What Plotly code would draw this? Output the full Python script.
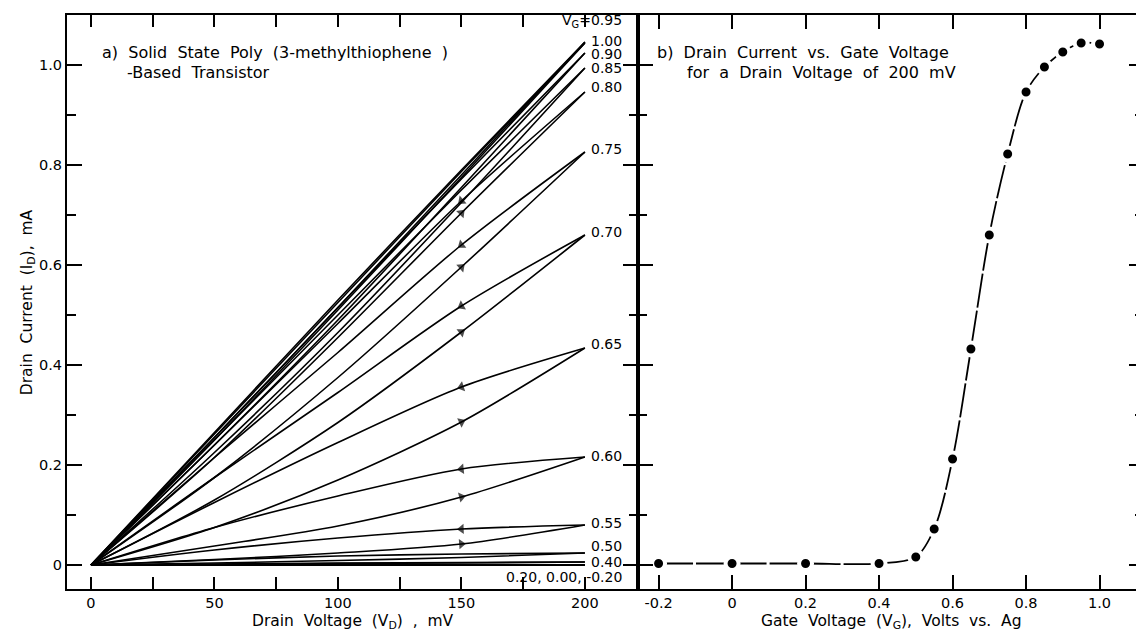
import plotly.graph_objects as go

# ---------------- data: panel a (I_D vs V_D loops) ----------------
VD = [0, 50, 100, 150, 200]             # drain voltage, mV (forward sweep order)
VD_REV = [200, 150, 100, 50, 0]         # reverse sweep order

FWD_100 = [0, 0.255, 0.515, 0.780, 1.046]
REV_100 = [1.046, 0.790, 0.530, 0.265, 0]
FWD_095 = [0, 0.250, 0.510, 0.775, 1.044]
REV_095 = [1.044, 0.787, 0.525, 0.262, 0]
FWD_090 = [0, 0.240, 0.490, 0.755, 1.024]
REV_090 = [1.024, 0.772, 0.515, 0.255, 0]
FWD_085 = [0, 0.225, 0.465, 0.725, 0.994]
REV_085 = [0.994, 0.750, 0.500, 0.250, 0]
FWD_080 = [0, 0.215, 0.455, 0.704, 0.946]
REV_080 = [0.946, 0.728, 0.483, 0.240, 0]
FWD_075 = [0, 0.175, 0.375, 0.596, 0.826]
REV_075 = [0.826, 0.640, 0.425, 0.215, 0]
FWD_070 = [0, 0.130, 0.285, 0.466, 0.660]
REV_070 = [0.660, 0.518, 0.345, 0.175, 0]
FWD_065 = [0, 0.075, 0.170, 0.286, 0.434]
REV_065 = [0.434, 0.356, 0.245, 0.125, 0]
FWD_060 = [0, 0.038, 0.078, 0.136, 0.216]
REV_060 = [0.216, 0.192, 0.138, 0.075, 0]
FWD_055 = [0, 0.011, 0.024, 0.042, 0.080]
REV_055 = [0.080, 0.072, 0.054, 0.030, 0]
FWD_050 = [0, 0.004, 0.009, 0.015, 0.024]
REV_050 = [0.024, 0.022, 0.018, 0.010, 0]
FWD_040 = [0, 0.001, 0.003, 0.004, 0.006]
REV_040 = [0.006, 0.005, 0.004, 0.002, 0]
FLAT_LOW = [0, 0, 0, 0, 0]               # V_G = 0.20, 0.00, -0.20

ARROW_VG = ["0.80", "0.75", "0.70", "0.65", "0.60", "0.55"]   # loops with sweep arrows at 150 mV

LABEL_TEXT = ["V<sub>G</sub>=0.95", "1.00", "0.90", "0.85", "0.80", "0.75", "0.70",
              "0.65", "0.60", "0.55", "0.50", "0.40", "0.20, 0.00, -0.20"]
LABEL_Y = [1.088, 1.049, 1.023, 0.994, 0.956, 0.832, 0.666, 0.442, 0.218, 0.084, 0.038, 0.006, -0.024]

# ---------------- data: panel b (I_D at V_D = 200 mV vs V_G) ----------------
VG = [-0.2, 0.0, 0.2, 0.4, 0.5, 0.55, 0.6, 0.65, 0.7, 0.75, 0.8, 0.85, 0.9, 0.95, 1.0]
ID_200 = [0.003, 0.003, 0.003, 0.003, 0.016, 0.072, 0.212, 0.432, 0.660, 0.822, 0.946, 0.996, 1.026, 1.044, 1.042]

# ticks
XA_TICKS = [0, 25, 50, 75, 100, 125, 150, 175, 200]
XA_TEXT = ["0", "", "50", "", "100", "", "150", "", "200"]
Y_TICKS = [0, 0.2, 0.4, 0.6, 0.8, 1.0]
Y_TEXT = ["0", "0.2", "0.4", "0.6", "0.8", "1.0"]
Y_MINOR = [0.1, 0.3, 0.5, 0.7, 0.9]
XB_TICKS = [-0.2, 0, 0.2, 0.4, 0.6, 0.8, 1.0]
XB_TEXT = ["-0.2", "0", "0.2", "0.4", "0.6", "0.8", "1.0"]

LOOPS = [
    ("1.00", FWD_100, REV_100), ("0.95", FWD_095, REV_095), ("0.90", FWD_090, REV_090),
    ("0.85", FWD_085, REV_085), ("0.80", FWD_080, REV_080), ("0.75", FWD_075, REV_075),
    ("0.70", FWD_070, REV_070), ("0.65", FWD_065, REV_065), ("0.60", FWD_060, REV_060),
    ("0.55", FWD_055, REV_055), ("0.50", FWD_050, REV_050), ("0.40", FWD_040, REV_040),
    ("0.20", FLAT_LOW, FLAT_LOW), ("0.00", FLAT_LOW, FLAT_LOW), ("-0.20", FLAT_LOW, FLAT_LOW),
]

FONT = "DejaVu Sans"
NB = "\u00a0"


def spaced(words, gap=2):
    return (NB * gap).join(words)


fig = go.Figure()

for vg, fwd, rev in LOOPS:
    arrow = vg in ARROW_VG
    fig.add_trace(go.Scatter(
        x=VD, y=fwd, mode="lines+markers" if arrow else "lines",
        line=dict(color="black", width=1.6, shape="spline", smoothing=0.8),
        marker=dict(symbol="triangle-up", size=[0, 0, 0, 9, 0], color="black",
                    angleref="previous", line=dict(width=0)),
        xaxis="x", yaxis="y", showlegend=False, hoverinfo="skip"))
    fig.add_trace(go.Scatter(
        x=VD_REV, y=rev, mode="lines+markers" if arrow else "lines",
        line=dict(color="black", width=1.6, shape="spline", smoothing=0.8),
        marker=dict(symbol="triangle-up", size=[0, 9, 0, 0, 0], color="black",
                    angleref="previous", line=dict(width=0)),
        xaxis="x", yaxis="y", showlegend=False, hoverinfo="skip"))

fig.add_trace(go.Scatter(
    x=VG, y=ID_200, mode="lines+markers",
    line=dict(color="black", width=1.8, shape="spline", smoothing=0.9, dash="34px,3px"),
    marker=dict(symbol="circle", size=13, color="black", line=dict(color="white", width=4)),
    xaxis="x2", yaxis="y2", showlegend=False, hoverinfo="skip"))

annotations = []
for txt, yv in zip(LABEL_TEXT, LABEL_Y):
    annotations.append(dict(x=216, y=yv, xref="x", yref="y", text=txt, showarrow=False,
                            xanchor="right", yanchor="middle",
                            font=dict(family=FONT, size=14, color="black")))

TXT_SIZE = 16
split = 571 / 1077
TITLE_FONT = dict(family=FONT, size=15.5, color="black")

annotations += [
    dict(x=3.6, y=1.026, xref="x", yref="y", xanchor="left", yanchor="middle", showarrow=False,
         text=spaced(["a)", "Solid", "State", "Poly", "(3-methylthiophene", ")"]),
         font=dict(family=FONT, size=TXT_SIZE, color="black")),
    dict(x=13.8, y=0.986, xref="x", yref="y", xanchor="left", yanchor="middle", showarrow=False,
         text=spaced(["-Based", "Transistor"]),
         font=dict(family=FONT, size=TXT_SIZE, color="black")),
    dict(x=-0.21, y=1.026, xref="x2", yref="y2", xanchor="left", yanchor="middle", showarrow=False,
         text=spaced(["b)", "Drain", "Current", "vs.", "Gate", "Voltage"]),
         font=dict(family=FONT, size=TXT_SIZE, color="black")),
    dict(x=-0.128, y=0.986, xref="x2", yref="y2", xanchor="left", yanchor="middle", showarrow=False,
         text=spaced(["for", "a", "Drain", "Voltage", "of", "200", "mV"]),
         font=dict(family=FONT, size=TXT_SIZE, color="black")),
    # axis titles
    dict(x=split / 2, y=-0.057, xref="paper", yref="paper", xanchor="center", yanchor="middle",
         showarrow=False, text=spaced(["Drain", "Voltage", "(V<sub>D</sub>)", ",", "mV"]), font=TITLE_FONT),
    dict(x=(split + 1) / 2, y=-0.058, xref="paper", yref="paper", xanchor="center", yanchor="middle",
         showarrow=False, text=spaced(["Gate", "Voltage", "(V<sub>G</sub>),", "Volts", "vs.", "Ag"]),
         font=TITLE_FONT),
    dict(x=-0.036, y=0.50, xref="paper", yref="paper", xanchor="center", yanchor="middle",
         showarrow=False, textangle=-90, text=spaced(["Drain", "Current", "(I<sub>D</sub>),", "mA"]),
         font=TITLE_FONT),
]

axis_common = dict(showgrid=False, zeroline=False, showline=True, linecolor="black", linewidth=2,
                   ticks="inside", tickcolor="black", tickwidth=1.5, mirror="ticks",
                   tickfont=dict(family=FONT, size=14.5, color="black"), automargin=False)

# the page body adds an 8 px offset; the figure is sized so the plot frame lands where it should
fig.update_layout(
    width=1136, height=624,
    margin=dict(l=59, r=0, t=7, b=43, autoexpand=False),
    paper_bgcolor="white", plot_bgcolor="white",
    font=dict(family=FONT, color="black"),
    annotations=annotations,
    xaxis=dict(domain=[0, split], range=[-9.7, 221.5], anchor="y",
               tickvals=XA_TICKS, ticktext=XA_TEXT, ticklen=12, **axis_common),
    yaxis=dict(domain=[0, 1], range=[-0.048, 1.10], anchor="x",
               tickvals=Y_TICKS, ticktext=Y_TEXT, ticklen=15,
               minor=dict(tickvals=Y_MINOR, ticklen=9, ticks="inside", tickcolor="black", tickwidth=1.5),
               **axis_common),
    xaxis2=dict(domain=[split, 1], range=[-0.256, 1.121], anchor="y2",
                tickvals=XB_TICKS, ticktext=XB_TEXT, ticklen=14, **axis_common),
    yaxis2=dict(domain=[0, 1], range=[-0.048, 1.10], anchor="x2",
                tickvals=Y_TICKS, showticklabels=False, ticklen=15,
                minor=dict(tickvals=Y_MINOR, ticklen=9, ticks="inside", tickcolor="black", tickwidth=1.5),
                **axis_common),
)

fig.write_html("out.html")
